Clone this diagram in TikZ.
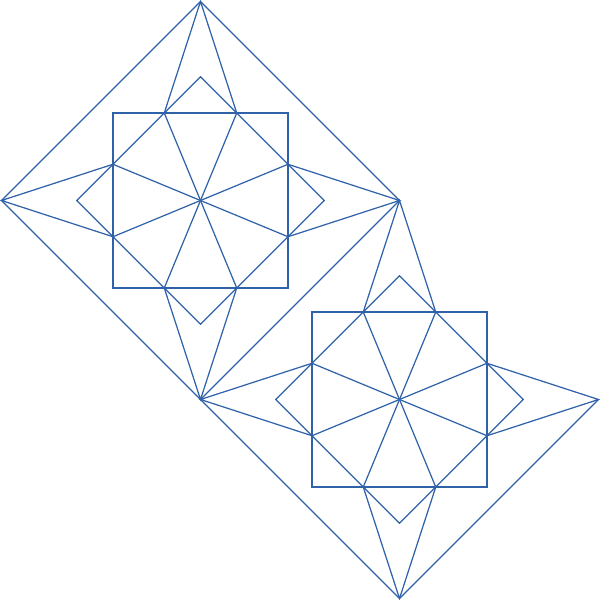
\documentclass[tikz,border=0pt]{standalone}
\definecolor{lineblue}{RGB}{48,98,170}
\tikzset{pattern line/.style={draw=lineblue, line width=0.35pt, line join=miter}}
\begin{document}
\begin{tikzpicture}[x=0.01cm,y=-0.01cm]
\useasboundingbox (0,0) rectangle (600,600);
\def\R{199}
\def\S{87.5}
\def\D{123.74}
\def\T{36.24}
\foreach \cx/\cy/\full in {200.5/200.5/1, 399.5/399.5/0}{
  \begin{scope}[shift={(\cx,\cy)}]
    % outer diamond
    \coordinate (N) at (0,-\R); \coordinate (E) at (\R,0);
    \coordinate (So) at (0,\R); \coordinate (W) at (-\R,0);
    \ifnum\full=1
      \draw[pattern line] (N) -- (E) -- (So) -- (W) -- cycle;
    \else
      \draw[pattern line] (W) -- (So) -- (E);
    \fi
    % inner square
    \draw[pattern line] (-\S,-\S) rectangle (\S,\S);
    % inner diamond
    \draw[pattern line] (0,-\D) -- (\D,0) -- (0,\D) -- (-\D,0) -- cycle;
    % star points
    \coordinate (t1) at (-\T,-\S); \coordinate (t2) at (\T,-\S);
    \coordinate (r1) at (\S,-\T); \coordinate (r2) at (\S,\T);
    \coordinate (b1) at (\T,\S); \coordinate (b2) at (-\T,\S);
    \coordinate (l1) at (-\S,\T); \coordinate (l2) at (-\S,-\T);
    % diameters through center
    \draw[pattern line] (t1) -- (b1);
    \draw[pattern line] (t2) -- (b2);
    \draw[pattern line] (r1) -- (l1);
    \draw[pattern line] (r2) -- (l2);
    % spokes to outer vertices
    \draw[pattern line] (t1) -- (N) -- (t2);
    \draw[pattern line] (r1) -- (E) -- (r2);
    \draw[pattern line] (b1) -- (So) -- (b2);
    \draw[pattern line] (l1) -- (W) -- (l2);
  \end{scope}
}
\end{tikzpicture}
\end{document}
